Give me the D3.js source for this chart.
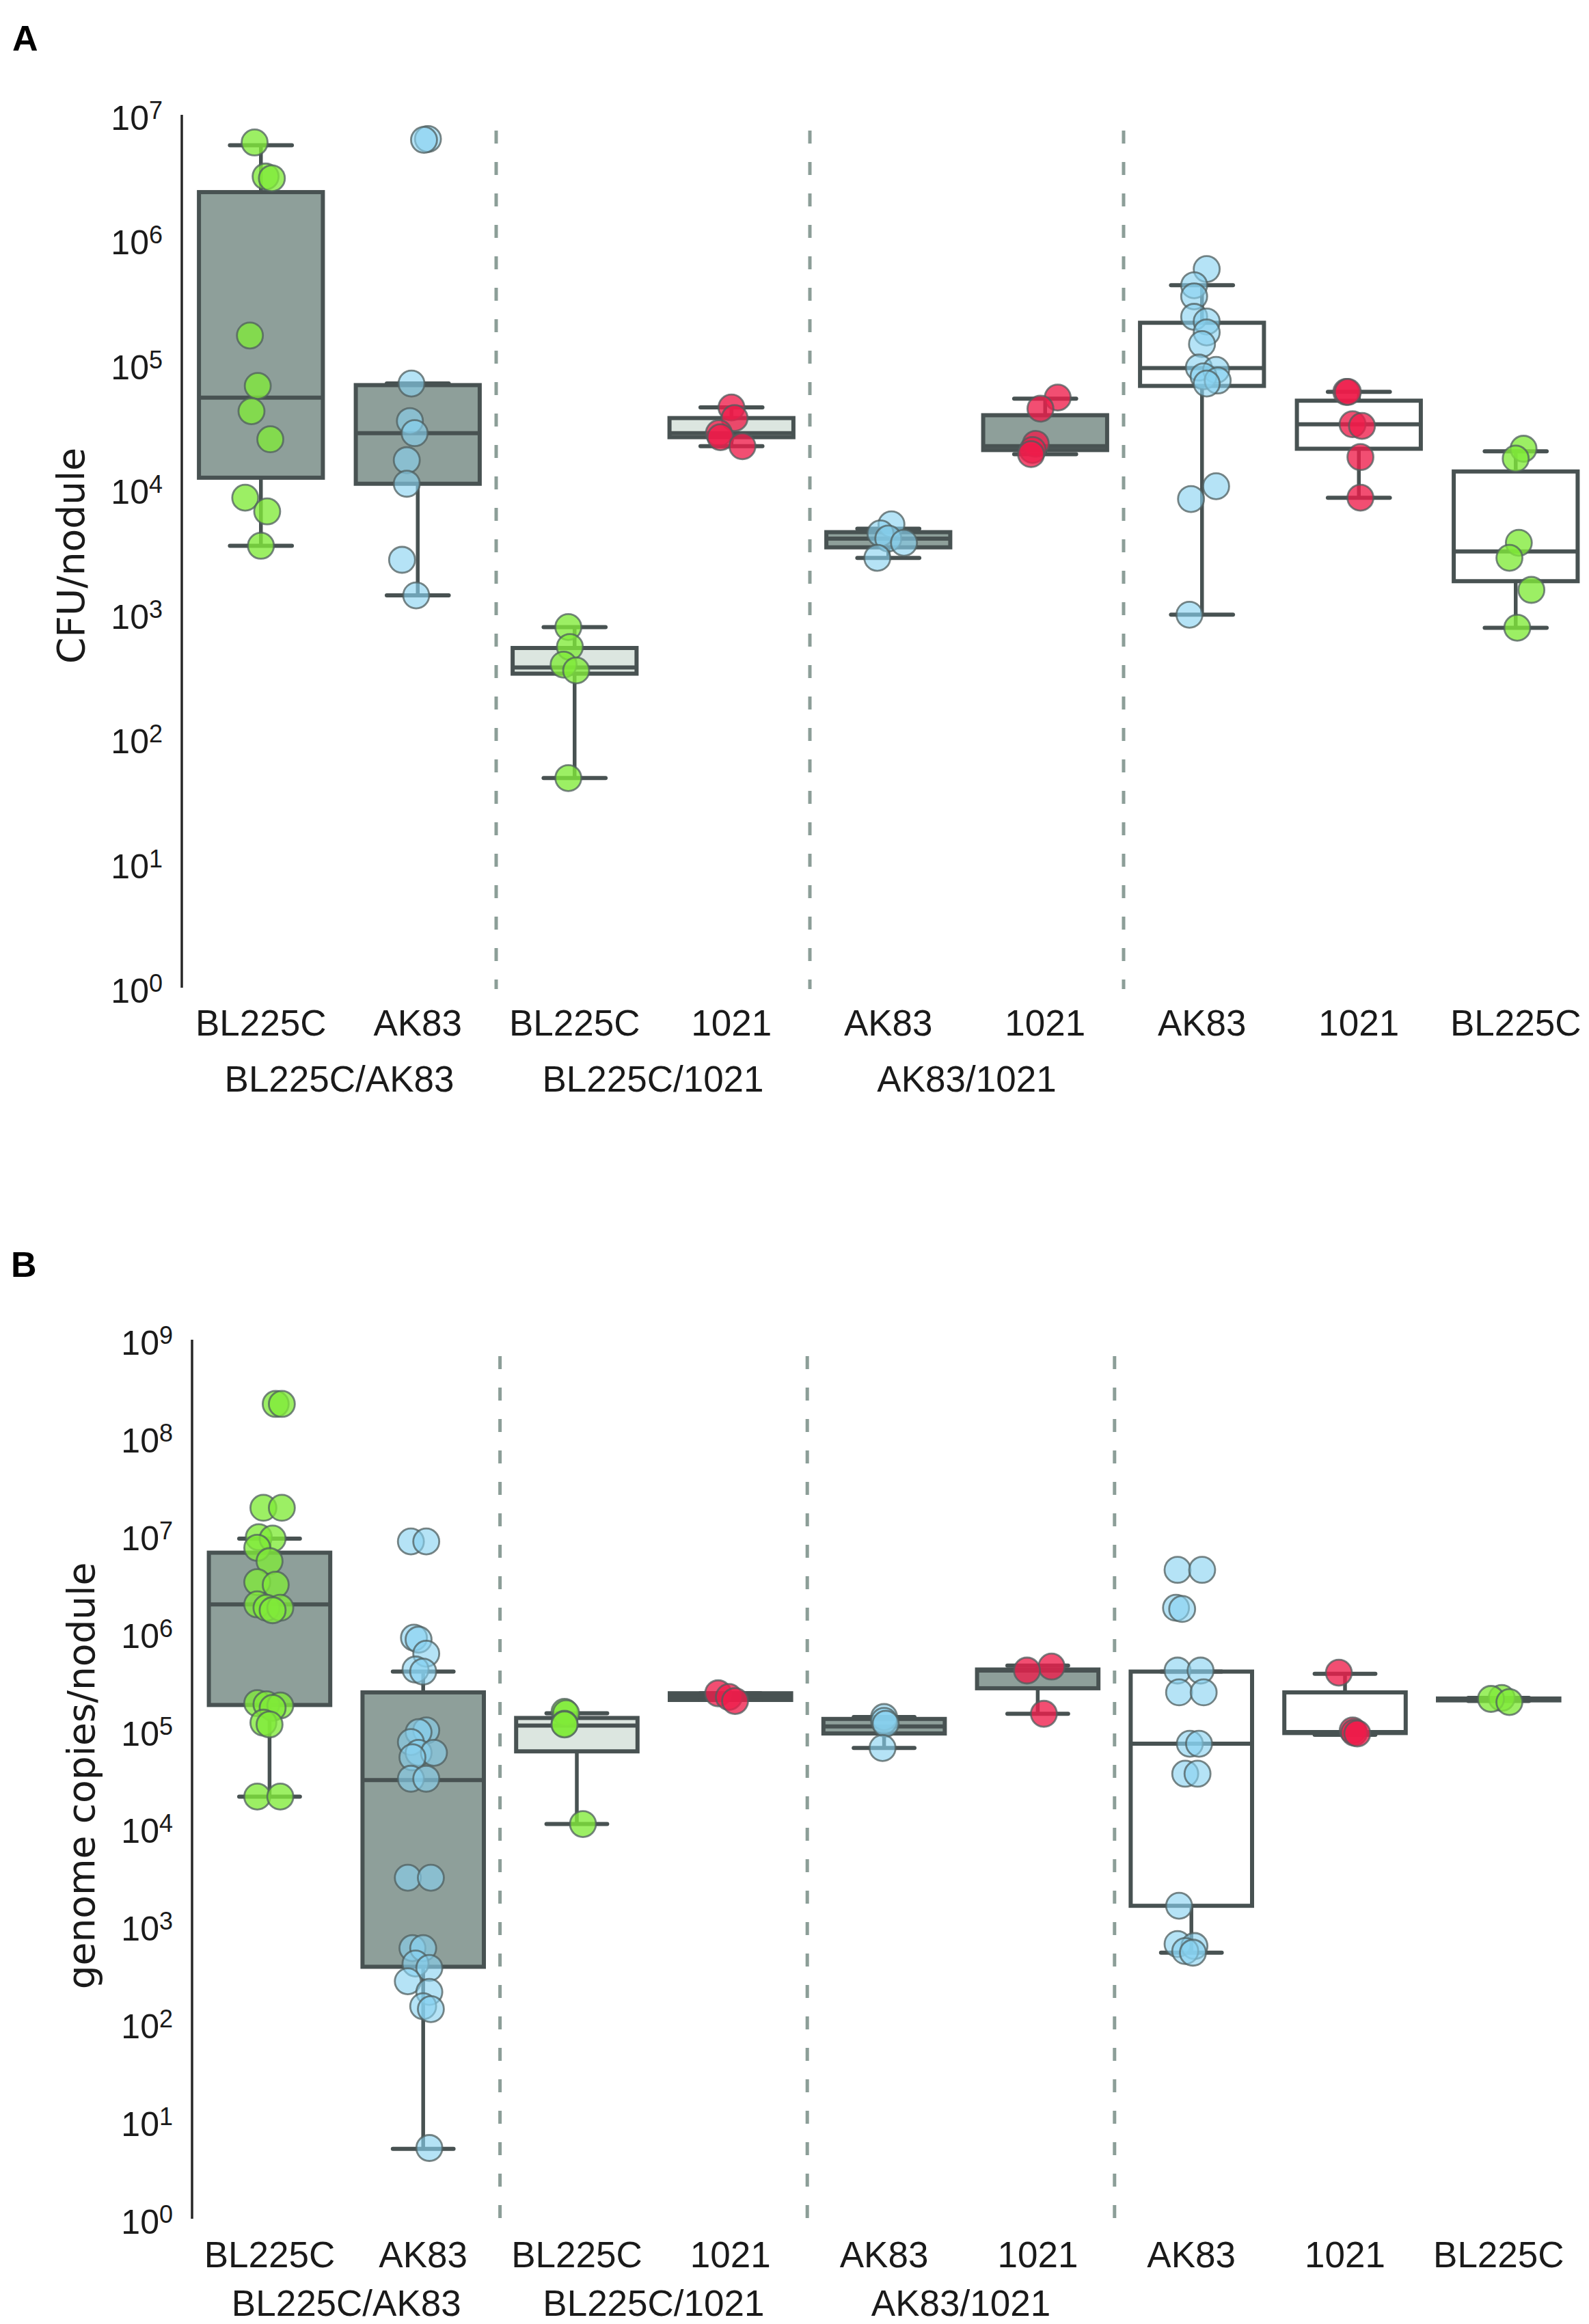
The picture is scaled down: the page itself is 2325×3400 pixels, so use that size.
<!DOCTYPE html>
<html><head><meta charset="utf-8">
<script src="https://cdn.jsdelivr.net/npm/d3@7/dist/d3.min.js"></script>
<style>body{margin:0;background:#fff}</style>
</head><body>
<svg id="chart" width="2325" height="3400" xmlns="http://www.w3.org/2000/svg"></svg>
<script>
// ---------------- DATA ----------------
const categories = ["BL225C","AK83","BL225C","1021","AK83","1021","AK83","1021","BL225C"];
const groupLabels = ["BL225C/AK83","BL225C/1021","AK83/1021"];
const boxFillKind = ["dark","dark","light","light","dark","dark","white","white","white"];
const yTicksA = [1,1e1,1e2,1e3,1e4,1e5,1e6,1e7];
const yTicksB = [1,1e1,1e2,1e3,1e4,1e5,1e6,1e7,1e8,1e9];

// Panel A: CFU/nodule (points per category)
const cfuValues = [
  [6.0e6,3.2e6,3.1e6,1.7e5,6.7e4,4.2e4,2.5e4,8.5e3,6.6e3,3.5e3],
  [6.4e6,6.3e6,7.0e4,3.5e4,2.8e4,1.7e4,1.1e4,2.7e3,1.4e3],
  [7.8e2,5.4e2,3.9e2,3.5e2,4.8e1],
  [4.5e4,3.7e4,2.8e4,2.6e4,2.2e4],
  [5.2e3,4.4e3,4.0e3,3.7e3,2.8e3],
  [5.4e4,4.4e4,2.3e4,2.05e4,1.9e4],
  [5.8e5,4.3e5,3.5e5,2.4e5,2.2e5,1.8e5,1.45e5,9.4e4,9.0e4,8.0e4,7.4e4,7.0e4,1.05e4,8.3e3,9.8e2],
  [6.0e4,6.0e4,3.3e4,3.2e4,1.8e4,8.5e3],
  [2.1e4,1.75e4,3.7e3,2.8e3,1.55e3,7.7e2]
];
// strip-plot jitter (fraction of category width)
const cfuJitter = [
  [-0.04,0.03,0.07,-0.07,-0.02,-0.06,0.06,-0.10,0.04,0.00],
  [0.065,0.04,-0.04,-0.05,-0.02,-0.07,-0.07,-0.10,-0.01],
  [-0.04,-0.03,-0.07,0.01,-0.04],
  [0.00,0.02,-0.08,-0.07,0.07],
  [0.02,-0.05,0.00,0.10,-0.07],
  [0.08,-0.03,-0.06,-0.08,-0.09],
  [0.03,-0.05,-0.05,-0.05,0.03,0.03,0.00,-0.02,0.09,0.01,0.10,0.03,0.09,-0.07,-0.08],
  [-0.08,-0.07,-0.04,0.02,0.01,0.01],
  [0.05,0.00,0.02,-0.04,0.10,0.01]
];
const cfuLow    = [3.5e3,1.4e3,48,2.2e4,2.8e3,1.9e4,9.8e2,8.5e3,7.7e2];
const cfuQ1     = [1.23e4,1.1e4,3.3e2,2.6e4,3.4e3,2.05e4,6.7e4,2.1e4,1.82e3];
const cfuMedian = [5.4e4,2.8e4,3.7e2,2.8e4,4.0e3,2.2e4,9.3e4,3.3e4,3.15e3];
const cfuQ3     = [2.4e6,6.8e4,5.3e2,3.7e4,4.5e3,3.9e4,2.15e5,5.1e4,1.38e4];
const cfuHigh   = [5.7e6,7.0e4,7.8e2,4.5e4,4.8e3,5.3e4,4.3e5,6.0e4,2.0e4];

// Panel B: genome copies/nodule
const gcValues = [
  [2.2e8,2.2e8,1.9e7,1.9e7,9.5e6,9.2e6,7.4e6,5.4e6,3.3e6,3.1e6,1.95e6,1.8e6,1.8e6,1.7e6,1.9e5,1.85e5,1.8e5,1.7e5,1.2e5,1.15e5,2.1e4,2.1e4],
  [8.6e6,8.6e6,8.9e5,8.5e5,6.1e5,4.2e5,4.0e5,1.0e5,9.6e4,7.6e4,5.9e4,5.9e4,5.3e4,3.2e4,3.2e4,3.1e3,3.1e3,5.9e2,5.9e2,4.1e2,3.7e2,2.7e2,2.1e2,1.5e2,1.4e2,5.3],
  [1.55e5,1.5e5,1.17e5,1.15e5,1.1e4],
  [2.4e5,2.2e5,2.0e5],
  [1.37e5,1.25e5,1.17e5,6.6e4],
  [4.5e5,4.1e5,1.48e5],
  [4.4e6,4.4e6,1.8e6,1.75e6,4.1e5,4.1e5,2.45e5,2.45e5,7.3e4,7.3e4,3.6e4,3.6e4,1.6e3,6.5e2,6.2e2,5.5e2,5.3e2],
  [3.9e5,1.0e5,9.5e4,9.3e4],
  [2.15e5,2.1e5,1.95e5]
];
const gcJitter = [
  [0.04,0.08,-0.04,0.08,-0.07,0.02,-0.08,0.00,-0.08,0.04,-0.08,-0.02,0.07,0.02,-0.08,-0.02,0.07,0.02,-0.04,0.00,-0.08,0.07],
  [-0.08,0.02,-0.06,-0.03,0.02,-0.05,0.00,0.02,-0.03,-0.08,-0.03,0.07,-0.07,-0.08,0.02,-0.10,0.05,-0.07,0.00,-0.05,0.04,-0.10,0.04,0.00,0.05,0.04],
  [-0.08,-0.07,-0.08,-0.08,0.04],
  [-0.08,-0.01,0.03],
  [0.00,0.00,0.01,-0.01],
  [0.09,-0.07,0.04],
  [-0.09,0.07,-0.10,-0.06,-0.09,0.06,-0.08,0.08,-0.01,0.05,-0.04,0.04,-0.08,-0.09,0.02,-0.04,0.01],
  [-0.04,0.05,0.06,0.08],
  [0.02,-0.05,0.07]
];
const gcLow    = [2.1e4,5.2,1.1e4,2.05e5,6.6e4,1.48e5,5.3e2,9.0e4,2.0e5];
const gcQ1     = [1.82e5,3.8e2,6.1e4,2.05e5,9.3e4,2.7e5,1.6e3,9.4e4,2.03e5];
const gcMedian = [1.95e6,3.1e4,1.12e5,2.25e5,1.1e5,4.1e5,7.3e4,9.6e4,2.07e5];
const gcQ3     = [6.6e6,2.45e5,1.34e5,2.4e5,1.31e5,4.2e5,4.0e5,2.45e5,2.12e5];
const gcHigh   = [9.2e6,4.0e5,1.5e5,2.4e5,1.37e5,4.6e5,4.0e5,3.8e5,2.15e5];

// ---------------- STYLE ----------------
const strainColor = {"BL225C":"#80ea38","AK83":"#88d2f0","1021":"#ee1c4a"};
const strainOpacity = {"BL225C":0.78,"AK83":0.62,"1021":0.78};
const fillColor = {dark:"#8e9f9a", light:"#dce6e0", white:"#ffffff"};
const lineColor = "#485252";
const textColor = "#1a1a1a";
const tickFont = "'Liberation Sans', Arial, sans-serif";
const labelFont = "'DejaVu Sans', sans-serif";

const svg = d3.select("#chart");

function drawPanel(p) {
  const g = svg.append("g");
  const x = d3.scaleBand().domain(d3.range(categories.length)).range(p.xRange).padding(0);
  const y = d3.scaleLog().domain([1, p.yMax]).range(p.yRange);
  const bw = x.bandwidth();
  const boxW = 0.79 * bw;

  // panel letter
  g.append("text").attr("x", p.letterPos[0]).attr("y", p.letterPos[1])
    .attr("font-family", tickFont).attr("font-weight", "bold").attr("font-size", 52)
    .attr("fill", "#000").text(p.letter);

  // separators
  [2,4,6].forEach(k => {
    g.append("line").attr("x1", x(k)).attr("x2", x(k))
      .attr("y1", p.dashTop).attr("y2", p.dashBottom)
      .attr("stroke", "#8c9e98").attr("stroke-width", 5)
      .attr("stroke-dasharray", "19,27");
  });

  // spine
  g.append("line").attr("x1", p.xRange[0] - 1).attr("x2", p.xRange[0] - 1)
    .attr("y1", y(1)).attr("y2", y(p.yMax))
    .attr("stroke", "#262626").attr("stroke-width", 3.5);

  // y axis labels
  const ya = g.append("g").attr("transform", `translate(${p.xRange[0] - 1},0)`)
    .call(d3.axisLeft(y).tickValues(p.yTicks).tickSize(0).tickPadding(28).tickFormat(() => "10"));
  ya.select(".domain").remove();
  ya.selectAll(".tick text")
    .attr("font-family", tickFont).attr("font-size", 50).attr("fill", textColor)
    .attr("dy", "0.43em")
    .append("tspan").attr("dy", -16).attr("font-size", 36)
    .text(d => Math.round(Math.log10(d)));

  // x axis labels
  const xa = g.append("g").attr("transform", `translate(0,${p.xLabelY})`)
    .call(d3.axisBottom(x).tickSize(0).tickFormat(i => categories[i]));
  xa.select(".domain").remove();
  xa.selectAll(".tick text").attr("y", 0).attr("dy", 0)
    .attr("font-family", tickFont).attr("font-size", 53).attr("fill", textColor);

  groupLabels.forEach((lab, k) => {
    g.append("text").attr("x", x(2*k + 1)).attr("y", p.groupLabelY)
      .attr("text-anchor", "middle").attr("font-family", tickFont)
      .attr("font-size", 53).attr("fill", textColor).text(lab);
  });

  // y title
  g.append("text").attr("transform", `translate(${p.titlePos[0]},${p.titlePos[1]}) rotate(-90)`)
    .attr("text-anchor", "middle").attr("font-family", labelFont)
    .attr("font-size", 55).attr("fill", textColor).text(p.title);

  // boxes
  categories.forEach((cat, i) => {
    const cx = x(i) + bw / 2;
    const bg = g.append("g");
    const yq1 = y(p.q1[i]), yq3 = y(p.q3[i]);
    bg.append("rect").attr("x", cx - boxW/2).attr("y", yq3)
      .attr("width", boxW).attr("height", Math.max(0.5, yq1 - yq3))
      .attr("fill", fillColor[boxFillKind[i]])
      .attr("stroke", lineColor).attr("stroke-width", 6);
    // whiskers
    bg.append("line").attr("x1", cx).attr("x2", cx).attr("y1", yq3).attr("y2", y(p.hi[i]))
      .attr("stroke", lineColor).attr("stroke-width", 5.5);
    bg.append("line").attr("x1", cx).attr("x2", cx).attr("y1", yq1).attr("y2", y(p.lo[i]))
      .attr("stroke", lineColor).attr("stroke-width", 5.5);
    [p.hi[i], p.lo[i]].forEach(v => {
      bg.append("line").attr("x1", cx - boxW/4).attr("x2", cx + boxW/4)
        .attr("y1", y(v)).attr("y2", y(v))
        .attr("stroke", lineColor).attr("stroke-width", 6).attr("stroke-linecap", "round");
    });
    bg.append("line").attr("x1", cx - boxW/2).attr("x2", cx + boxW/2)
      .attr("y1", y(p.med[i])).attr("y2", y(p.med[i]))
      .attr("stroke", lineColor).attr("stroke-width", 6);
  });

  // points
  categories.forEach((cat, i) => {
    const cx = x(i) + bw / 2;
    const pts = p.values[i].map((v, j) => ({v, j: p.jitter[i][j]}));
    g.append("g").selectAll("circle").data(pts).join("circle")
      .attr("cx", d => cx + d.j * bw)
      .attr("cy", d => y(d.v))
      .attr("r", 19)
      .attr("fill", strainColor[cat])
      .attr("fill-opacity", strainOpacity[cat])
      .attr("stroke", "#4f5e5e")
      .attr("stroke-opacity", 0.75)
      .attr("stroke-width", 2.8);
  });
}

drawPanel({
  letter: "A", letterPos: [18, 74],
  xRange: [267, 267 + 9 * 229.5],
  yRange: [1445, 168], yMax: 1e7, yTicks: yTicksA,
  dashTop: 191, dashBottom: 1447,
  xLabelY: 1515, groupLabelY: 1597,
  title: "CFU/nodule", titlePos: [123, 813],
  values: cfuValues, jitter: cfuJitter,
  lo: cfuLow, q1: cfuQ1, med: cfuMedian, q3: cfuQ3, hi: cfuHigh
});

drawPanel({
  letter: "B", letterPos: [16, 1868],
  xRange: [282, 282 + 9 * 224.8],
  yRange: [3246, 1960], yMax: 1e9, yTicks: yTicksB,
  dashTop: 1984, dashBottom: 3250,
  xLabelY: 3317, groupLabelY: 3388,
  title: "genome copies/nodule", titlePos: [138, 2598],
  values: gcValues, jitter: gcJitter,
  lo: gcLow, q1: gcQ1, med: gcMedian, q3: gcQ3, hi: gcHigh
});
</script>
</body></html>
